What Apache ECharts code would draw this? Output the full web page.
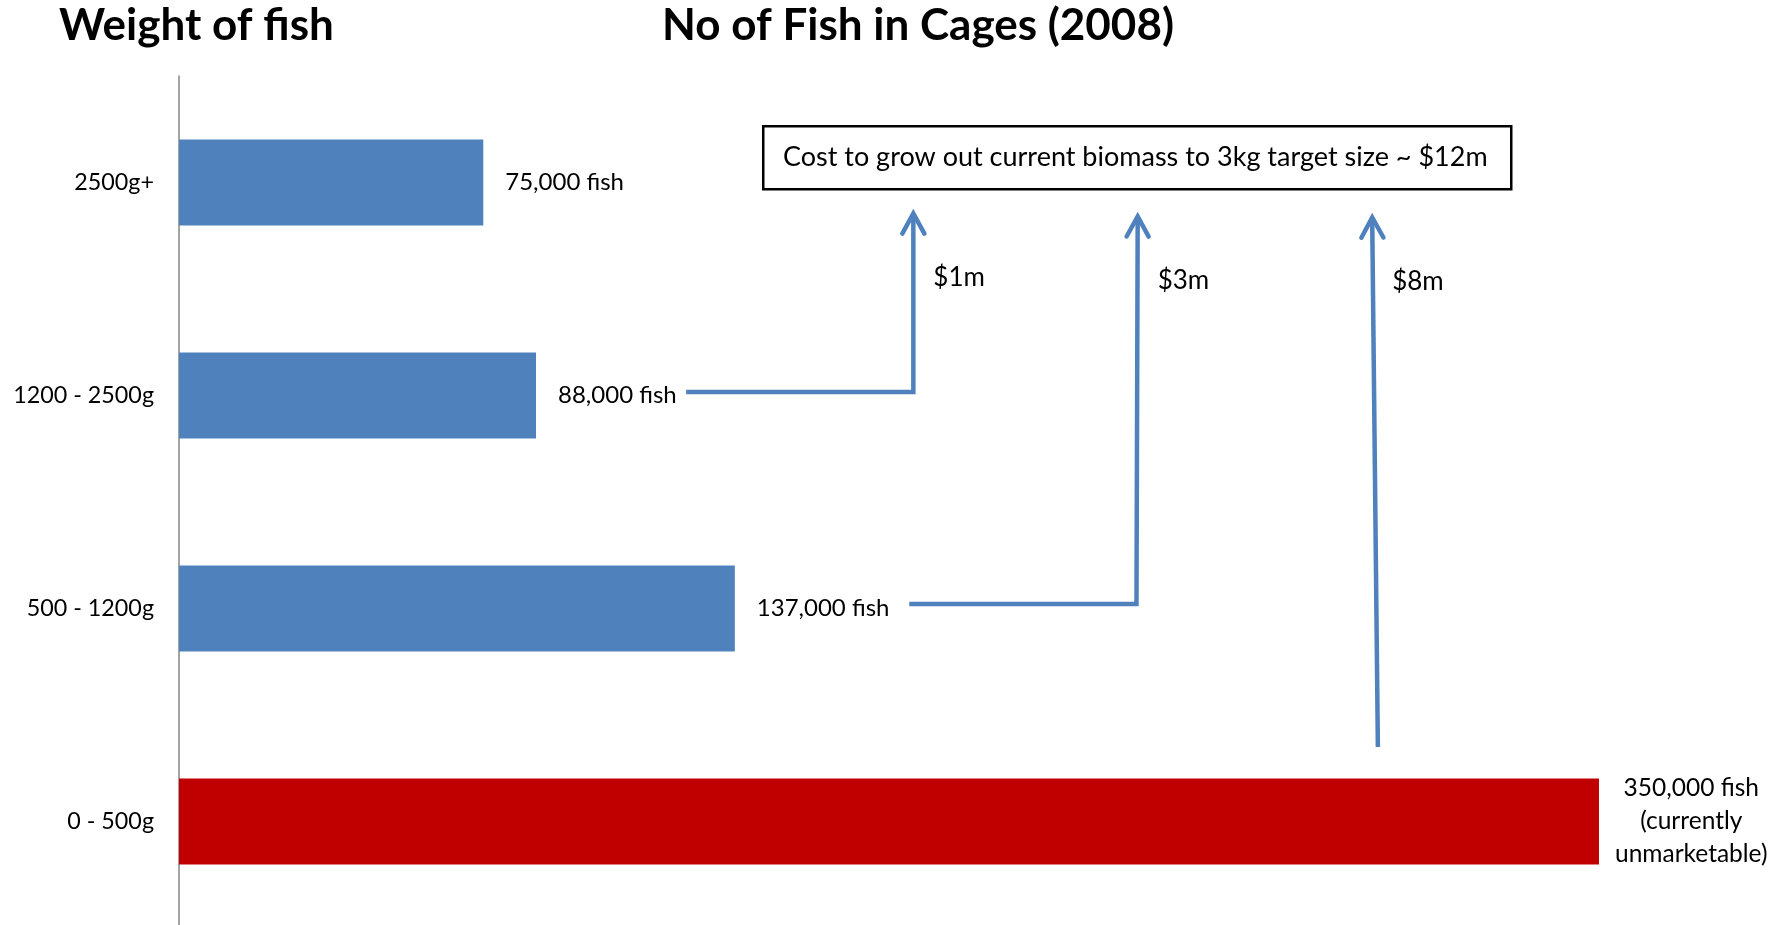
<!DOCTYPE html>
<html>
<head>
<meta charset="utf-8">
<script src="https://cdn.jsdelivr.net/npm/echarts@6/dist/echarts.min.js"></script>
<style>
html,body{margin:0;padding:0;background:#fff;}
#chart{width:1789px;height:925px;}
</style>
</head>
<body>
<div id="chart"></div>
<script>
// ---- data ----
const categories = ['0 - 500g', '500 - 1200g', '1200 - 2500g', '2500g+'];
const fishCounts = [350000, 137000, 88000, 75000];
const barLabels = ['350,000 fish\n(currently\nunmarketable)', '137,000 fish', '88,000 fish', '75,000 fish'];
const barColors = ['#C00000', '#4F81BD', '#4F81BD', '#4F81BD'];
// annotation arrows in data units: [fish count, category position (0 = bottom category)]
const arrowPaths = [
  [[125000, 2.016], [181000, 2.016], [181000, 2.855]],
  [[180000, 1.021], [236000, 1.021], [236300, 2.841]],
  [[295500, 0.35], [294100, 2.836]]
];
const arrowLabels = ['$1m', '$3m', '$8m'];
const titleLeft = 'Weight of fish';
const titleMain = 'No of Fish in Cages (2008)';
const boxText = 'Cost to grow out current biomass to 3kg target size ~ $12m';

const FONT = 'Lato, "Open Sans", sans-serif';
const BLUE = '#4F81BD';

const chart = echarts.init(document.getElementById('chart'), null, {renderer: 'canvas'});

const barData = fishCounts.map((v, i) => ({
  value: v,
  itemStyle: {color: barColors[i]},
  label: i === 0 ? {
    formatter: barLabels[i].split('\n').map(s => '{c|' + s + '}').join('\n'),
    distance: 16,
    rich: {c: {align: 'center', fontSize: 24.5, fontFamily: FONT, color: '#000', lineHeight: 33}}
  } : {formatter: barLabels[i]}
}));

const arrowData = arrowPaths.map((p, i) => [p[p.length - 1][0], p[p.length - 1][1], i]);

chart.setOption({
  animation: false,
  backgroundColor: '#fff',
  title: [
    {text: titleLeft, left: 59, top: 2, padding: 0,
      textStyle: {fontFamily: FONT, fontWeight: 'bold', fontSize: 44, color: '#000', lineHeight: 48}},
    {text: titleMain, left: 662, top: 2, padding: 0,
      textStyle: {fontFamily: FONT, fontWeight: 'bold', fontSize: 44, color: '#000', lineHeight: 48}}
  ],
  grid: {left: 179, top: 76, width: 1541.7, height: 852, containLabel: false, outerBoundsMode: 'none'},
  xAxis: {type: 'value', min: 0, max: 380000, show: false},
  yAxis: [
    {type: 'category', data: categories,
      axisLine: {show: true, lineStyle: {color: '#868686', width: 1.5}},
      axisTick: {show: false},
      axisLabel: {fontFamily: FONT, fontSize: 23.3, color: '#000', margin: 25},
      splitLine: {show: false}},
    {type: 'value', min: -0.5, max: 3.5, show: false}
  ],
  graphic: [
    {type: 'group', left: 762, top: 125, children: [
      {type: 'rect', shape: {x: 0, y: 0, width: 748, height: 63},
        style: {fill: '#fff', stroke: '#000', lineWidth: 2.5}},
      {type: 'text', x: 372, y: 31.5,
        style: {text: boxText, fontFamily: FONT, fontSize: 27, fill: '#000', align: 'center', verticalAlign: 'middle'}}
    ]}
  ],
  series: [
    {type: 'bar', yAxisIndex: 0, data: barData, barWidth: 86,
      label: {show: true, position: 'right', distance: 22, fontFamily: FONT, fontSize: 24, color: '#000'}},
    {type: 'custom', xAxisIndex: 0, yAxisIndex: 1, data: arrowData, silent: true,
      renderItem: function (params, api) {
        const idx = api.value(2);
        const pts = arrowPaths[idx].map(p => api.coord(p));
        const tip = pts[pts.length - 1];
        const prev = pts[pts.length - 2];
        const ang = Math.atan2(tip[1] - prev[1], tip[0] - prev[0]);
        const len = 23, spread = 0.5;
        const w1 = [tip[0] - len * Math.cos(ang - spread), tip[1] - len * Math.sin(ang - spread)];
        const w2 = [tip[0] - len * Math.cos(ang + spread), tip[1] - len * Math.sin(ang + spread)];
        return {type: 'group', children: [
          {type: 'polyline', shape: {points: pts},
            style: {stroke: BLUE, lineWidth: 4.5, fill: null, lineJoin: 'miter'}},
          {type: 'polyline', shape: {points: [w1, tip, w2]},
            style: {stroke: BLUE, lineWidth: 4.5, fill: null, lineCap: 'round', lineJoin: 'miter'}},
          {type: 'text', x: tip[0] + 20, y: tip[1] + 64,
            style: {text: arrowLabels[idx], fontFamily: FONT, fontSize: 26, fill: '#000', align: 'left', verticalAlign: 'middle'}}
        ]};
      }}
  ]
});
</script>
</body>
</html>
